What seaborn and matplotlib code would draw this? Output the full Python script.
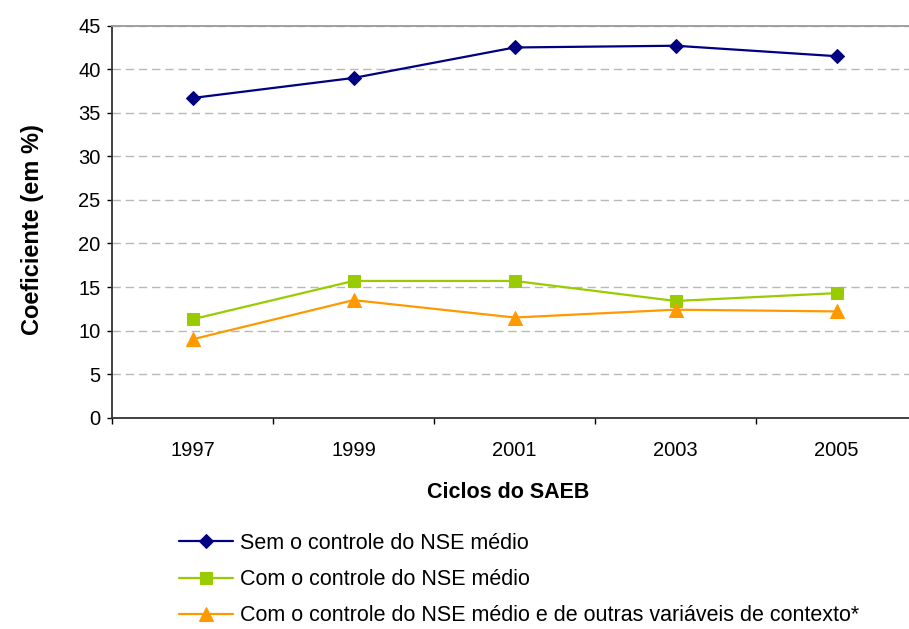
import matplotlib
matplotlib.use("Agg")
import matplotlib.pyplot as plt
import seaborn as sns
import numpy as np
from matplotlib.ticker import FixedLocator, MultipleLocator

anos = ["1997", "1999", "2001", "2003", "2005"]
sem_controle = [36.7, 39.0, 42.5, 42.7, 41.5]
com_controle = [11.3, 15.7, 15.7, 13.4, 14.3]
com_outras = [9.0, 13.5, 11.5, 12.4, 12.2]
rotulos = [
    "Sem o controle do NSE médio",
    "Com o controle do NSE médio",
    "Com o controle do NSE médio e de outras variáveis de contexto*",
]

sns.set_style("white")
plt.rcParams['font.family'] = ['Liberation Sans', 'DejaVu Sans']
plt.rcParams['text.color'] = 'black'
plt.rcParams['axes.labelcolor'] = 'black'
plt.rcParams['xtick.color'] = 'black'
plt.rcParams['ytick.color'] = 'black'

fig = plt.figure(figsize=(9.09, 6.29), dpi=100)
ax = fig.add_axes([112/909, (629-417.7)/629, 805/909, (417.7-25.7)/629])

x = np.arange(len(anos))
series = [
    (sem_controle, "#000080", "D", 7),
    (com_controle, "#99CC00", "s", 8.3),
    (com_outras, "#FF9900", "^", 10),
]
for (vals, cor, mk, ms), lab in zip(series, rotulos):
    sns.lineplot(x=x, y=vals, ax=ax, color=cor, marker=mk, markersize=ms,
                 markeredgecolor=cor, linewidth=1.6, label=lab, legend=False)

ax.set_xlim(-0.5, 4.5)
ax.set_ylim(0, 45)
ax.yaxis.set_major_locator(MultipleLocator(5))
ax.set_xticks(x)
ax.set_xticklabels(anos)
ax.xaxis.set_minor_locator(FixedLocator(np.arange(-0.5, 5, 1)))
ax.tick_params(axis='x', which='major', length=0, labelsize=14.5, pad=16.5)
ax.tick_params(axis='x', which='minor', length=4.5, width=1, color='black', direction='out', bottom=True)
ax.tick_params(axis='y', which='major', length=3.8, width=1, color='black', direction='out', left=True, labelsize=14.5, pad=4.5)

ax.grid(axis='y', color='#b8b8b8', linestyle=(0, (6, 3.5)), linewidth=1.0)
ax.set_axisbelow(True)
for s in ['left', 'bottom']:
    ax.spines[s].set_color('#333333')
    ax.spines[s].set_linewidth(1.3)
ax.spines['top'].set_color('#999999')
ax.spines['top'].set_linewidth(1.3)
ax.spines['right'].set_visible(False)

ax.set_ylabel("Coeficiente (em %)", fontsize=17, fontweight='bold')
ax.set_xlabel("Ciclos do SAEB", fontsize=15.5, fontweight='bold')
ax.yaxis.set_label_coords(-0.084, 0.48)
ax.xaxis.set_label_coords(0.492, -0.164)

h, l = ax.get_legend_handles_labels()
fig.legend(h, l, loc='upper left', bbox_to_anchor=(179/909, 1 - 533/629),
           frameon=False, fontsize=15.5, handlelength=2.5, handletextpad=0.35,
           labelspacing=0.7, borderaxespad=0, borderpad=0)

fig.savefig("out.png", dpi=100)
